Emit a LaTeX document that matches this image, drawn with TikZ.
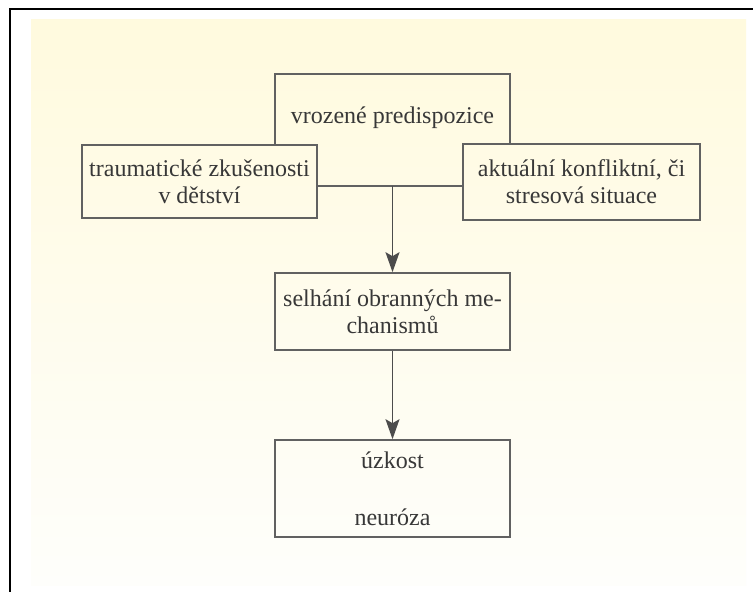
\documentclass[tikz,border=0pt]{standalone}
\usepackage{fontspec}
\setmainfont{Liberation Serif}
\usepackage{xcolor}
\usepackage{tikz}
\usetikzlibrary{arrows.meta,positioning}

\definecolor{paperTop}{RGB}{255,250,222}
\definecolor{paperMid}{RGB}{254,253,244}
\definecolor{paperLow}{RGB}{254,254,251}

\begin{document}
\begin{tikzpicture}[
  x=0.5pt,
  y=-0.5pt,
  box/.style={draw=black!62, line width=0.8pt, align=center, inner sep=0pt, font=\fontsize{12}{13.5}\selectfont, text=black!78},
  caption/.style={inner sep=0pt, font=\fontsize{12}{13.5}\selectfont, text=black!78},
  joint/.style={draw=black!62, line width=0.8pt},
  arrow/.style={joint, -{Stealth[length=10pt, width=7pt, inset=2pt]}, color=black!70}
]
  \useasboundingbox (0,0) rectangle (753,592);
  \fill[white] (0,0) rectangle (753,592);
  \shade[top color=paperTop, middle color=paperMid, bottom color=paperLow] (31,20) rectangle (746,585);
  \draw[black, line width=1pt] (10,592) -- (10,9) -- (753,9);

  \node[box, draw=none, minimum width=116.5pt, minimum height=55pt] (vroz) at (392.5,130) {};
  \node[caption] (vroztext) at (392.5,118) {vrozené predispozice};
  \node[box, minimum width=117.5pt, minimum height=36.5pt] (trauma) at (199.5,181.5) {traumatické zkušenosti\\v dětství};
  \node[box, minimum width=118.5pt, minimum height=38pt] (stres) at (581.5,182) {aktuální konfliktní, či\\stresová situace};
  \node[box, minimum width=117.5pt, minimum height=38.5pt] (selhani) at (392.5,311.5) {selhání obranných me-\\chanismů};
  \node[box, minimum width=117.5pt, minimum height=48.5pt] (uzkost) at (392.5,488.5) {úzkost\\[15pt]neuróza};

  \draw[joint] (vroz.west |- trauma.north) |- (vroz.north east) -- (vroz.east |- stres.north);
  \draw[joint] (trauma.east |- vroz.south) -- (stres.west |- vroz.south);
  \draw[arrow] (vroz.south) -- (selhani.north);
  \draw[arrow] (selhani.south) -- (uzkost.north);
\end{tikzpicture}
\end{document}
